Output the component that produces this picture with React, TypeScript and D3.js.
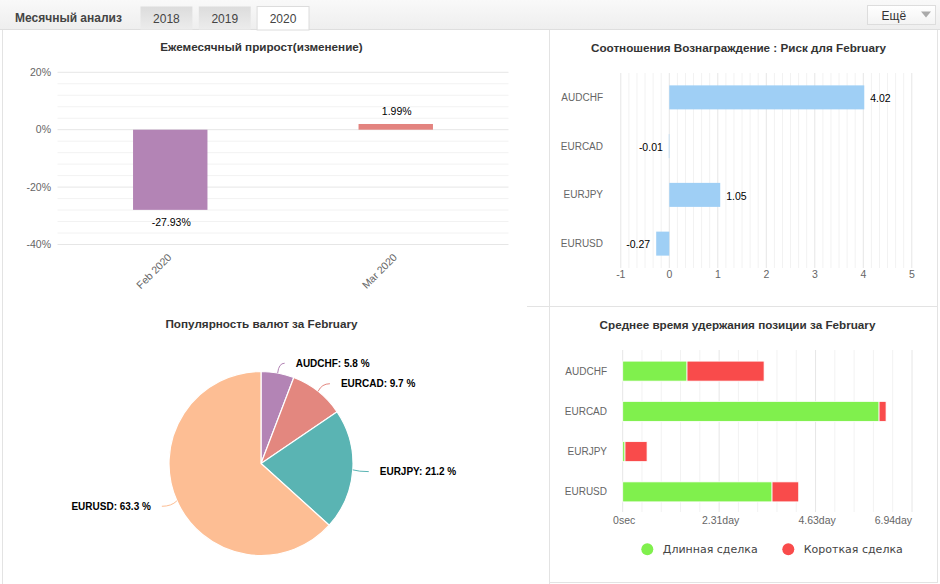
import React from 'react';
import * as d3 from 'd3';

// ---- data ----
const reportTitle = 'Месячный анализ';
const years = ['2018', '2019', '2020'];
const activeYear = '2020';
const moreLabel = 'Ещё';

const months = ['Feb 2020', 'Mar 2020'];
const monthlyGrowth = [-27.93, 1.99];
const growthColors = ['#b384b5', '#e3837f'];
const growthTicks = [20, 0, -20, -40];
const growthMinorStep = 4;

const rrPairs = ['AUDCHF', 'EURCAD', 'EURJPY', 'EURUSD'];
const rrValues = [4.02, -0.01, 1.05, -0.27];
const rrTicks = [-1, 0, 1, 2, 3, 4, 5];

const popPairs = ['AUDCHF', 'EURCAD', 'EURJPY', 'EURUSD'];
const popShares = [5.8, 9.7, 21.2, 63.3];
const popColors = ['#b384b5', '#e3877f', '#5ab4b3', '#fdbe94'];

const holdPairs = ['AUDCHF', 'EURCAD', 'EURJPY', 'EURUSD'];
const holdLongDays = [1.544, 6.154, 0.055, 3.585];
const holdShortDays = [1.85, 0.168, 0.53, 0.64];
const holdTickSeconds = [0, 200000, 400000, 600000];
const holdTickLabels = ['0sec', '2.31day', '4.63day', '6.94day'];
const holdSeries = ['Длинная сделка', 'Короткая сделка'];
const holdColors = ['#80f04d', '#f94b4b'];

const titles = {
  growth: 'Ежемесячный прирост(изменение)',
  rr: 'Соотношения Вознаграждение : Риск для February',
  pop: 'Популярность валют за February',
  hold: 'Среднее время удержания позиции за February',
};

const FONT = '"Liberation Sans", Arial, sans-serif';
const TITLE_SIZE = 11.7;
const GRID = '#e6e6e6';
const MINOR = '#f2f2f2';
const TICK = '#666';
const DAY = 86400;

function GrowthChart() {
  const y = d3.scaleLinear().domain([-40, 20]).range([244.5, 72.3]);
  const x = d3.scaleBand().domain(months).range([57.5, 508.5]);
  const barW = x.bandwidth() * 0.33;
  const minor = d3.range(-40, 20 + 0.001, growthMinorStep).filter((v) => !growthTicks.includes(v));
  return (
    <g>
      <text x={261.5} y={51} textAnchor="middle" fontSize={TITLE_SIZE} fontWeight="bold" fill="#333">
        {titles.growth}
      </text>
      {minor.map((v) => (
        <line key={'m' + v} x1={57.5} x2={508.5} y1={y(v)} y2={y(v)} stroke={MINOR} />
      ))}
      {growthTicks.map((v) => (
        <g key={v}>
          <line x1={57.5} x2={508.5} y1={y(v)} y2={y(v)} stroke={GRID} />
          <text x={51} y={y(v)} dy="0.35em" textAnchor="end" fontSize={10.5} fill={TICK}>
            {v + '%'}
          </text>
        </g>
      ))}
      {months.map((m, i) => {
        const v = monthlyGrowth[i];
        const cx = (x(m) as number) + x.bandwidth() / 2;
        const top = Math.min(y(v), y(0));
        const h = Math.abs(y(v) - y(0));
        return (
          <g key={m}>
            <rect x={cx - barW / 2} y={top} width={barW} height={h} fill={growthColors[i]} />
            <text
              x={cx + 1}
              y={v < 0 ? y(v) + 12 : y(v) - 13}
              dy="0.35em"
              textAnchor="middle"
              fontSize={10.5}
              fill="#000"
            >
              {v.toFixed(2) + '%'}
            </text>
            <text
              transform={`translate(${cx + 2},${258}) rotate(-45)`}
              textAnchor="end"
              fontSize={10.5}
              fill={TICK}
            >
              {m}
            </text>
          </g>
        );
      })}
    </g>
  );
}

function RewardRiskChart() {
  const x = d3.scaleLinear().domain([-1, 5]).range([620.8, 911.8]);
  const y = d3.scaleBand().domain(rrPairs).range([73, 268]);
  const minor = d3.range(-6, 30 + 1).map((k) => k / 6).filter((v) => v > -1 && v < 5 && !Number.isInteger(v));
  const barH = 24;
  return (
    <g>
      <text x={738.5} y={52} textAnchor="middle" fontSize={TITLE_SIZE} fontWeight="bold" fill="#333">
        {titles.rr}
      </text>
      {minor.map((v, i) => (
        <line key={'m' + i} x1={x(v)} x2={x(v)} y1={73} y2={268} stroke={MINOR} />
      ))}
      {rrTicks.map((v) => (
        <g key={v}>
          <line x1={x(v)} x2={x(v)} y1={73} y2={268} stroke={GRID} />
          <text x={x(v)} y={274} dy="0.35em" textAnchor="middle" fontSize={10.5} fill={TICK}>
            {v}
          </text>
        </g>
      ))}
      {rrPairs.map((p, i) => {
        const v = rrValues[i];
        const cy = (y(p) as number) + y.bandwidth() / 2;
        const x0 = Math.min(x(0), x(v));
        const w = Math.abs(x(v) - x(0));
        return (
          <g key={p}>
            <text x={603} y={cy} dy="0.35em" textAnchor="end" fontSize={10} fill={TICK}>
              {p}
            </text>
            <rect x={x0} y={cy - barH / 2} width={w} height={barH} fill="#9fcff5" />
            <text
              x={v >= 0 ? x(v) + 6 : x(v) - 6}
              y={cy + 1}
              dy="0.35em"
              textAnchor={v >= 0 ? 'start' : 'end'}
              fontSize={10.5}
              fill="#000"
            >
              {v.toFixed(2)}
            </text>
          </g>
        );
      })}
    </g>
  );
}

function PopularityChart() {
  const cx = 261;
  const cy = 463.5;
  const r = 92;
  const pie = d3.pie<number>().sort(null).value((d) => d);
  const arcs = pie(popShares);
  const arc = d3.arc<d3.PieArcDatum<number>>().innerRadius(0).outerRadius(r);
  return (
    <g>
      <text x={261.5} y={328} textAnchor="middle" fontSize={TITLE_SIZE} fontWeight="bold" fill="#333">
        {titles.pop}
      </text>
      <g transform={`translate(${cx},${cy})`}>
        {arcs.map((a, i) => (
          <path key={i} d={arc(a) as string} fill={popColors[i]} stroke="#fff" strokeWidth={1.2} />
        ))}
        {arcs.map((a, i) => {
          const mid = (a.startAngle + a.endAngle) / 2;
          const s = Math.sin(mid);
          const c = -Math.cos(mid);
          const side = s >= 0 ? 1 : -1;
          const ex = s * r;
          const ey = c * r;
          const lr = r + 11;
          const ly = c * lr + 1;
          const tx = s * lr + side * 16;
          const endX = tx - side * 11;
          const d = `M${ex},${ey} Q${ex + s * 6},${ly} ${endX},${ly}`;
          return (
            <g key={'l' + i}>
              <path d={d} fill="none" stroke={popColors[i]} strokeWidth={1} />
              <text
                x={tx}
                y={ly}
                dy="0.35em"
                textAnchor={side > 0 ? 'start' : 'end'}
                fontSize={10}
                fontWeight="bold"
                fill="#000"
              >
                {`${popPairs[i]}: ${popShares[i]} %`}
              </text>
            </g>
          );
        })}
      </g>
    </g>
  );
}

function HoldingChart() {
  const x = d3.scaleLinear().domain([0, 600000]).range([622.7, 912]);
  const y = d3.scaleBand().domain(holdPairs).range([351, 512]);
  const barH = 20;
  const minor = d3.range(40000, 600000, 40000).filter((v) => !holdTickSeconds.includes(v));
  const stacks = holdPairs.map((p, i) => {
    const l = holdLongDays[i] * DAY;
    const s = holdShortDays[i] * DAY;
    return { p, segs: [[0, l], [l, l + s]] };
  });
  return (
    <g>
      <text x={737.5} y={329} textAnchor="middle" fontSize={TITLE_SIZE} fontWeight="bold" fill="#333">
        {titles.hold}
      </text>
      {minor.map((v) => (
        <line key={'m' + v} x1={x(v)} x2={x(v)} y1={350} y2={512} stroke={MINOR} />
      ))}
      {holdTickSeconds.map((v, i) => (
        <g key={v}>
          <line x1={x(v)} x2={x(v)} y1={350} y2={512} stroke={GRID} />
          <text
            x={i === holdTickSeconds.length - 1 ? x(v) : x(v) + 1.5}
            y={520}
            dy="0.35em"
            textAnchor={i === holdTickSeconds.length - 1 ? 'end' : 'middle'}
            fontSize={10.5}
            fill={TICK}
          >
            {holdTickLabels[i]}
          </text>
        </g>
      ))}
      {stacks.map(({ p, segs }) => {
        const cy = (y(p) as number) + y.bandwidth() / 2;
        return (
          <g key={p}>
            <text x={607} y={cy} dy="0.35em" textAnchor="end" fontSize={10} fill={TICK}>
              {p}
            </text>
            {segs.map(([a, b], k) => (
              <rect
                key={k}
                x={x(a)}
                y={cy - barH / 2}
                width={Math.max(0, x(b) - x(a))}
                height={barH}
                fill={holdColors[k]}
                stroke="#fff"
                strokeWidth={0.8}
              />
            ))}
          </g>
        );
      })}
      {holdSeries.map((name, k) => {
        const lx = k === 0 ? 647.3 : 788.3;
        return (
          <g key={name}>
            <circle cx={lx} cy={549.3} r={6} fill={holdColors[k]} />
            <text x={lx + 15.5} y={549.3} dy="0.35em" fontSize={11} fontFamily='"DejaVu Sans", sans-serif' fill="#444">
              {name}
            </text>
          </g>
        );
      })}
    </g>
  );
}

function Header() {
  const tabX = d3.scaleBand().domain(years).range([140.5, 309]).paddingInner(0.11);
  return (
    <g>
      <defs>
        <linearGradient id="hdr" x1="0" y1="0" x2="0" y2="1">
          <stop offset="0" stopColor="#f9f9f9" />
          <stop offset="1" stopColor="#eeeeee" />
        </linearGradient>
        <linearGradient id="tab" x1="0" y1="0" x2="0" y2="1">
          <stop offset="0" stopColor="#dcdcdc" />
          <stop offset="1" stopColor="#ececec" />
        </linearGradient>
        <linearGradient id="btn" x1="0" y1="0" x2="0" y2="1">
          <stop offset="0" stopColor="#ffffff" />
          <stop offset="1" stopColor="#f3f3f3" />
        </linearGradient>
      </defs>
      <rect x={0} y={0} width={940} height={29.5} fill="url(#hdr)" />
      <line x1={0} x2={940} y1={29.5} y2={29.5} stroke="#dedede" />
      <text x={15} y={22} fontSize={12} fontWeight="bold" fill="#444">
        {reportTitle}
      </text>
      {years.map((yr) => {
        const x0 = tabX(yr) as number;
        const active = yr === activeYear;
        return (
          <g key={yr}>
            <rect
              x={x0}
              y={6.5}
              width={tabX.bandwidth()}
              height={active ? 23.5 : 23}
              fill={active ? '#fff' : 'url(#tab)'}
              stroke={active ? '#dcdcdc' : 'none'}
            />
            <text x={x0 + tabX.bandwidth() / 2} y={22.5} textAnchor="middle" fontSize={12} fill="#444">
              {yr}
            </text>
          </g>
        );
      })}
      <rect x={867.5} y={5.5} width={68} height={19} fill="url(#btn)" stroke="#dddddd" />
      <text x={881.5} y={19.5} fontSize={12} fill="#333">
        {moreLabel}
      </text>
      <path d="M921,11.5 L931,11.5 L926,17.5 Z" fill="#aaaaaa" />
    </g>
  );
}

export default function App() {
  return (
    <div style={{ position: 'absolute', left: 0, top: 0, background: '#fff' }}>
      <svg width={940} height={584} style={{ display: 'block', fontFamily: FONT }}>
        <rect x={0} y={0} width={940} height={584} fill="#fff" />
        <Header />
        {/* panel frame */}
        <g stroke="#e3e3e3" fill="none">
          <line x1={2.5} x2={2.5} y1={30} y2={584} />
          <line x1={549.5} x2={549.5} y1={30} y2={584} />
          <line x1={527} x2={937.5} y1={306.5} y2={306.5} />
          <line x1={937.5} x2={937.5} y1={30} y2={583} />
          <line x1={549.5} x2={937.5} y1={582.5} y2={582.5} />
        </g>
        <GrowthChart />
        <RewardRiskChart />
        <PopularityChart />
        <HoldingChart />
      </svg>
    </div>
  );
}
